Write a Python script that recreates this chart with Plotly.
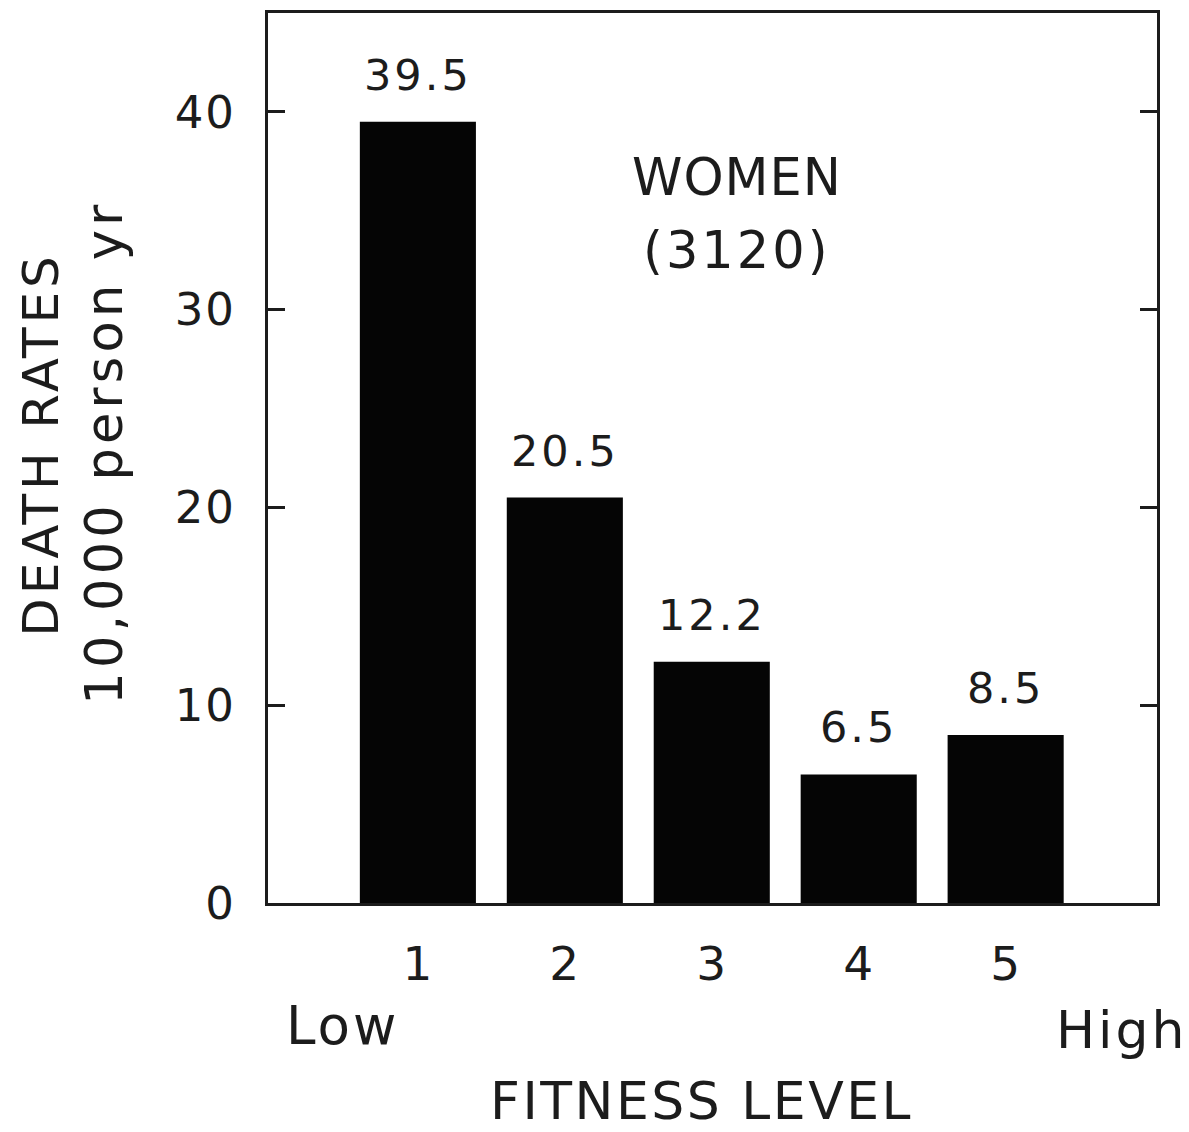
import plotly.graph_objects as go

categories = [1, 2, 3, 4, 5]
tick_text = ["1", "2", "3", "4", "5"]
death_rates = [39.5, 20.5, 12.2, 6.5, 8.5]
bar_labels = ["39.5", "20.5", "12.2", "6.5", "8.5"]
y_ticks = [0, 10, 20, 30, 40]
y_tick_text = ["0", "10", "20", "30", "40"]

FONT = "DejaVu Sans ExtraLight, DejaVu Sans"
INK = "#1c1c1c"


def sp(text, ls=3):
    return f'<span style="letter-spacing:{ls}px">{text}</span>'


def f(size):
    return dict(size=size, color=INK, family=FONT)


fig = go.Figure()
fig.add_trace(go.Bar(
    x=categories, y=death_rates, width=0.79,
    marker=dict(color="#050505", line=dict(width=0)),
    hoverinfo="skip", showlegend=False,
))

annotations = []
for c, v, t in zip(categories, death_rates, bar_labels):
    annotations.append(dict(x=c, y=v, xref="x", yref="y", text=sp(t, 3), showarrow=False,
                            yanchor="bottom", yshift=20, font=f(43)))

annotations += [
    dict(x=3.17, y=36.7, xref="x", yref="y", text=sp("WOMEN", 1), showarrow=False, font=f(51)),
    dict(x=3.17, y=33.0, xref="x", yref="y", text=sp("(3120)", 3), showarrow=False, font=f(51)),
    dict(x=0, y=0.515, xref="paper", yref="paper", text=sp("DEATH RATES", 3.9), showarrow=False,
         textangle=-90, xanchor="center", yanchor="middle", xshift=-227, font=f(50)),
    dict(x=0, y=0.506, xref="paper", yref="paper", text=sp("10,000 person yr", 4.2), showarrow=False,
         textangle=-90, xanchor="center", yanchor="middle", xshift=-163, font=f(51)),
    dict(x=0, y=0, xref="paper", yref="paper", text=sp("Low", 3), showarrow=False,
         xanchor="center", yanchor="middle", xshift=74, yshift=-122, font=f(53)),
    dict(x=1, y=0, xref="paper", yref="paper", text=sp("High", 3), showarrow=False,
         xanchor="center", yanchor="middle", xshift=-35, yshift=-127, font=f(52)),
    dict(x=0.5, y=0, xref="paper", yref="paper", text=sp("FITNESS LEVEL", 2.5), showarrow=False,
         xanchor="center", yanchor="middle", xshift=-11, yshift=-198, font=f(52)),
]

fig.update_layout(
    width=1181, height=1124,
    margin=dict(l=260, r=32, t=2, b=229),
    paper_bgcolor="white", plot_bgcolor="white",
    font=f(45),
    annotations=annotations,
    xaxis=dict(range=[-0.02, 6.03], tickvals=categories, ticktext=[sp(t, 1) for t in tick_text],
               showline=True, linecolor=INK, linewidth=3, mirror=True,
               ticks="", showgrid=False, zeroline=False, ticklabelstandoff=18,
               tickfont=f(47)),
    yaxis=dict(range=[0, 45], tickvals=y_ticks, ticktext=[sp(t, 2) for t in y_tick_text],
               showline=True, linecolor=INK, linewidth=3, mirror="ticks",
               ticks="inside", ticklen=17, tickwidth=2.5, tickcolor=INK,
               showgrid=False, zeroline=False, ticklabelstandoff=20,
               tickfont=f(45)),
)

fig.write_html("out.html")
